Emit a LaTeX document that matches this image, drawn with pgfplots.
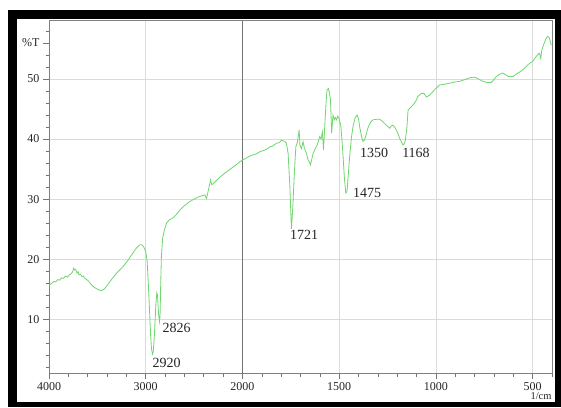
\documentclass[border=0pt]{standalone}
\usepackage{pgfplots}
\pgfplotsset{compat=1.18}
\usepackage{fontspec}
\setmainfont{Liberation Serif}
\definecolor{spec}{RGB}{110,215,110}
\pgfplotstableread{
w T
4000 15.6
3995 15.7
3970 16.0
3950 16.3
3930 16.2
3910 16.6
3890 16.5
3870 16.9
3850 16.8
3830 17.2
3810 17.0
3790 17.4
3770 17.6
3755 17.9
3745 18.5
3735 18.2
3725 18.3
3710 17.7
3700 17.9
3690 17.4
3675 17.5
3660 17.1
3645 17.2
3630 16.8
3610 16.6
3594 16.4
3570 15.9
3540 15.4
3500 15.0
3470 14.8
3456 14.8
3430 15.0
3400 15.6
3350 16.7
3300 17.7
3232 18.8
3180 19.9
3130 21.1
3094 21.9
3060 22.4
3040 22.4
3020 22.0
3005 21.5
2995 20.8
2985 19.5
2975 16.5
2964 12.7
2950 7.5
2940 5.0
2930 4.2
2922 4.6
2910 7.5
2895 12.5
2885 14.4
2878 14.0
2868 11.0
2858 9.6
2852 10.5
2845 16.0
2838 20.5
2825 23.5
2805 25.0
2785 26.0
2760 26.5
2716 26.9
2680 27.5
2640 28.3
2600 28.9
2544 29.6
2500 30.0
2450 30.4
2389 30.7
2372 30.1
2345 32.0
2330 33.2
2318 32.4
2300 32.6
2250 33.4
2200 34.1
2150 34.7
2100 35.3
2050 35.9
2028 36.2
2000 36.5
1960 37.2
1930 37.5
1910 37.9
1890 38.1
1870 38.4
1859 38.7
1845 38.8
1824 39.3
1810 39.4
1798 39.8
1790 39.7
1781 39.6
1773 39.3
1764 37.6
1755 32.1
1747 25.0
1740 28.5
1735 32.1
1729 36.0
1724 38.7
1716 39.5
1707 41.5
1703 39.0
1695 38.4
1687 39.6
1680 38.5
1669 37.6
1661 36.5
1654 36.2
1649 35.7
1642 36.6
1635 37.6
1625 38.3
1614 39.0
1608 39.6
1601 40.4
1594 40.0
1587 41.2
1581 38.2
1574 42.6
1568 46.0
1563 48.2
1556 48.4
1550 47.6
1545 46.5
1539 41.0
1532 44.0
1525 43.2
1520 43.6
1514 43.2
1507 43.8
1501 43.4
1492 42.3
1486 40.0
1480 37.1
1473 33.5
1466 31.0
1460 31.2
1453 34.0
1446 37.1
1437 40.2
1429 42.0
1418 43.5
1408 44.0
1400 43.4
1394 42.0
1385 40.5
1377 39.6
1370 39.8
1363 40.4
1355 41.5
1346 42.3
1335 42.9
1325 43.2
1305 43.3
1291 43.3
1275 42.9
1256 42.3
1239 41.8
1230 42.2
1222 42.3
1212 41.9
1205 41.5
1195 40.8
1187 40.1
1178 39.5
1170 39.0
1164 39.2
1158 39.8
1150 42.0
1144 44.8
1136 45.1
1127 45.4
1115 45.8
1101 46.5
1093 47.1
1075 47.6
1062 47.6
1049 47.0
1033 47.3
1024 47.6
1007 48.2
981 49.0
960 49.1
929 49.3
900 49.5
878 49.6
850 49.9
826 50.2
805 50.3
791 50.2
775 49.9
757 49.6
735 49.4
714 49.4
700 49.9
688 50.4
670 50.8
654 51.0
640 50.7
625 50.4
602 50.4
580 50.9
551 51.5
530 52.2
516 52.6
500 52.9
490 53.4
475 54.0
465 54.3
458 53.4
453 54.8
440 56.0
430 56.8
422 57.1
413 56.8
404 55.6
}\spectrum
\begin{document}
\begin{tikzpicture}[x=1pt,y=1pt]
\fill[white] (0,0) rectangle (561,407);
\fill[black] (8,0) rectangle (561,397);
\fill[white] (17,5) rectangle (555,388);
\begin{axis}[
  at={(49pt,33.7pt)}, anchor=south west, scale only axis,
  width=503pt, height=352.6pt,
  xmin=0, xmax=2600, ymin=1, ymax=59.7,
  x filter/.expression={(x>=2000)*(4000-x)/2+(x<2000)*(3000-x)},
  xtick={0,500,1500,2000,2500},
  xticklabels={4000,3000,1500,1000,\raisebox{2.5pt}{500}},
  extra x ticks={1000}, extra x tick labels={2000},
  extra x tick style={major grid style={draw=black!55, line width=0.9pt}},
  minor xtick={100,200,...,2600},
  ytick={10,20,30,40,50},
  minor ytick={2,4,...,58},
  extra y ticks={56}, extra y tick labels={\%T},
  extra y tick style={grid=none},
  xmajorgrids, ymajorgrids,
  major grid style={draw=black!14, line width=0.6pt},
  tick align=outside, tick pos=left,
  major tick length=6pt, minor tick length=3.5pt,
  tick style={draw=black!55, line width=0.6pt},
  axis line style={draw=black!50, line width=0.7pt},
  tick label style={font=\fontsize{12}{12}\selectfont, text=black!85},
  /pgf/number format/assume math mode=true,
]
\addplot[spec, line width=0.8pt, mark=none] table[x=w, y=T] {\spectrum};
\end{axis}
\begin{scope}[every node/.style={font=\fontsize{14}{14}\selectfont, text=black!85, inner sep=0pt}]
\node at (166.5,44.5) {2920};
\node at (176.7,79) {2826};
\node at (304,172) {1721};
\node at (367,214.5) {1475};
\node at (374,254.5) {1350};
\node at (416,254.5) {1168};
\end{scope}
\node[font=\fontsize{10.5}{10.5}\selectfont, text=black!85, inner sep=0pt] at (541,10.5) {1/cm};
\pgfresetboundingbox
\useasboundingbox (0,0) rectangle (561,407);
\end{tikzpicture}
\end{document}
